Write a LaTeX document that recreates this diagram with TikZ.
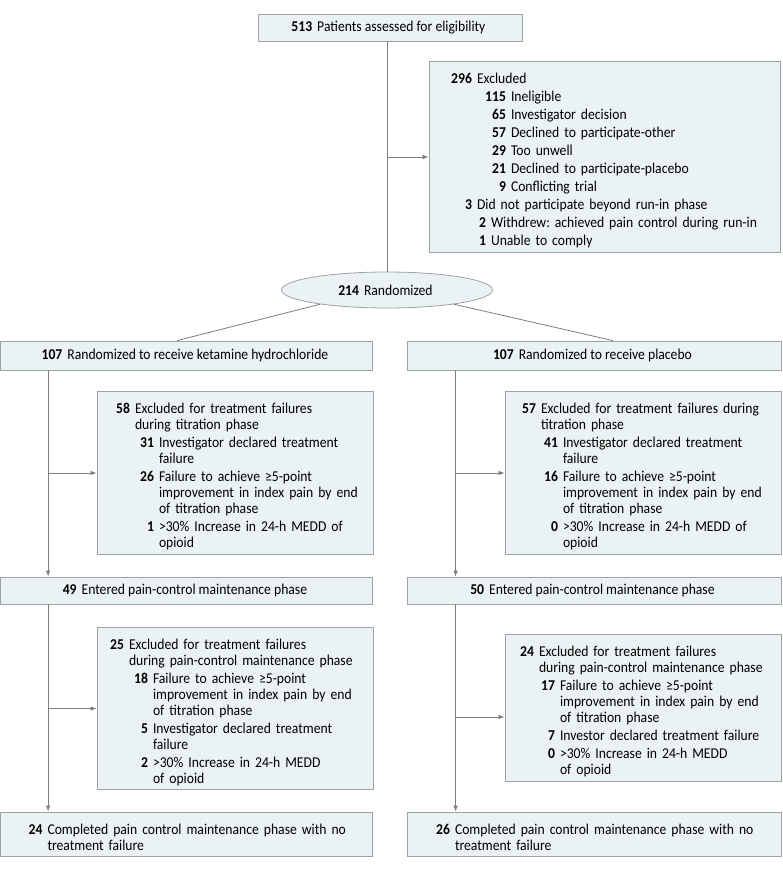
\documentclass[tikz,border=0pt]{standalone}
\usepackage{fontspec}
\setmainfont{Carlito}[FakeStretch=0.91]
\usetikzlibrary{arrows.meta,shapes.geometric}

\definecolor{boxfill}{HTML}{EAF2F4}
\definecolor{boxline}{HTML}{9EA2A4}
\definecolor{flowline}{HTML}{7D7D7D}

\frenchspacing
\newcommand{\countno}[1]{\textbf{#1}\hspace{5pt}}
\newcommand{\countline}[3]{%
    \par\hangindent=\dimexpr#1+5pt\relax\hangafter=1
    \noindent\makebox[#1][r]{\textbf{#2}}\hspace{5pt}#3\par}

\begin{document}
\begin{tikzpicture}[
    x=1pt,
    y=-1pt,
    every node/.style={
        font=\fontsize{15}{16}\selectfont,
        align=center
    },
    flowbox/.style={
        draw=boxline,
        line width=0.8pt,
        fill=boxfill,
        inner sep=0pt
    },
    listbox/.style={
        flowbox,
        align=left,
        inner xsep=10pt,
        inner ysep=4pt,
        execute at begin node={\setlength{\parskip}{2pt}}
    },
    link/.style={
        draw=flowline,
        line width=0.8pt
    },
    arrowlink/.style={
        link,
        -{Latex[length=6pt,width=4.5pt]}
    }
]

\useasboundingbox (0,0) rectangle (783,871);

\node[flowbox, minimum width=264pt, minimum height=27pt] (elig) at (390,27.5) {
    \countno{513}Patients assessed for eligibility
};

\node[listbox, text width=331pt, minimum height=190pt] (excl) at (604.5,157) {
    \countline{33pt}{296}{Excluded}
    \countline{67pt}{115}{Ineligible}
    \countline{67pt}{65}{Investigator decision}
    \countline{67pt}{57}{Declined to participate-other}
    \countline{67pt}{29}{Too unwell}
    \countline{67pt}{21}{Declined to participate-placebo}
    \countline{67pt}{9}{Conflicting trial}
    \countline{33pt}{3}{Did not participate beyond run-in phase}
    \countline{47pt}{2}{Withdrew: achieved pain control during run-in}
    \countline{47pt}{1}{Unable to comply}
};

\node[flowbox, ellipse, minimum width=211pt, minimum height=36pt] (rand) at (387,290) {
    \countno{214}Randomized
};

\node[flowbox, minimum width=372pt, minimum height=29pt] (ket) at (186.5,355.5) {
    \countno{107}Randomized to receive ketamine hydrochloride
};

\node[flowbox, minimum width=374pt, minimum height=29pt] (plac) at (594,355.5) {
    \countno{107}Randomized to receive placebo
};

\node[listbox, text width=256pt, minimum height=162pt] (tketx) at (235,473) {
    \countline{23pt}{58}{Excluded for treatment failures\newline during titration phase}
    \countline{47pt}{31}{Investigator declared treatment\newline failure}
    \countline{47pt}{26}{Failure to achieve ≥5-point\newline improvement in index pain by end\newline of titration phase}
    \countline{47pt}{1}{>30\% Increase in 24-h MEDD of\newline opioid}
};

\node[listbox, text width=256pt, minimum height=162pt] (tplcx) at (643,473) {
    \countline{21pt}{57}{Excluded for treatment failures during\newline titration phase}
    \countline{43pt}{41}{Investigator declared treatment\newline failure}
    \countline{43pt}{16}{Failure to achieve ≥5-point\newline improvement in index pain by end\newline of titration phase}
    \countline{43pt}{0}{>30\% Increase in 24-h MEDD of\newline opioid}
};

\node[flowbox, minimum width=372pt, minimum height=27pt] (ketmaint) at (186.5,590.5) {
    \countno{49}Entered pain-control maintenance phase
};

\node[flowbox, minimum width=374pt, minimum height=27pt] (plcmaint) at (594,590.5) {
    \countno{50}Entered pain-control maintenance phase
};

\node[listbox, text width=256pt, minimum height=161pt] (mketx) at (235,708.5) {
    \countline{17pt}{25}{Excluded for treatment failures\newline during pain-control maintenance phase}
    \countline{41pt}{18}{Failure to achieve ≥5-point\newline improvement in index pain by end\newline of titration phase}
    \countline{41pt}{5}{Investigator declared treatment\newline failure}
    \countline{41pt}{2}{>30\% Increase in 24-h MEDD\newline of opioid}
};

\node[listbox, text width=256pt, minimum height=144pt] (mplcx) at (643,708) {
    \countline{19pt}{24}{Excluded for treatment failures\newline during pain-control maintenance phase}
    \countline{40pt}{17}{Failure to achieve ≥5-point\newline improvement in index pain by end\newline of titration phase}
    \countline{40pt}{7}{Investor declared treatment failure}
    \countline{40pt}{0}{>30\% Increase in 24-h MEDD\newline of opioid}
};

\node[listbox, text width=352pt, minimum height=44pt] (ketdone) at (186.5,834) {
    \countline{32pt}{24}{Completed pain control maintenance phase with no\newline treatment failure}
};

\node[listbox, text width=354pt, minimum height=44pt] (plcdone) at (594,834) {
    \countline{33pt}{26}{Completed pain control maintenance phase with no\newline treatment failure}
};

\coordinate (kspine) at ([xshift=48pt]ket.south west);
\coordinate (kspine2) at ([xshift=48pt]ketmaint.south west);
\coordinate (pspine) at ([xshift=49pt]plac.south west);
\coordinate (pspine2) at ([xshift=49pt]plcmaint.south west);
\coordinate (mplcin) at ([yshift=-9pt]mplcx.west);

\draw[link] (rand.north |- elig.south) -- (rand.north);
\draw[arrowlink] (rand.north |- excl.west) -- (excl.west);

\draw[link] (rand.192) -- ([xshift=-9.5pt]ket.north);
\draw[link] (rand.-12) -- ([xshift=19pt]plac.north);

\draw[arrowlink] (kspine) -- (kspine |- ketmaint.north);
\draw[arrowlink] (kspine |- tketx.west) -- (tketx.west);
\draw[arrowlink] (kspine2) -- (kspine2 |- ketdone.north);
\draw[arrowlink] (kspine2 |- mketx.west) -- (mketx.west);

\draw[arrowlink] (pspine) -- (pspine |- plcmaint.north);
\draw[arrowlink] (pspine |- tplcx.west) -- (tplcx.west);
\draw[arrowlink] (pspine2) -- (pspine2 |- plcdone.north);
\draw[arrowlink] (pspine2 |- mplcin) -- (mplcin);

\end{tikzpicture}
\end{document}
